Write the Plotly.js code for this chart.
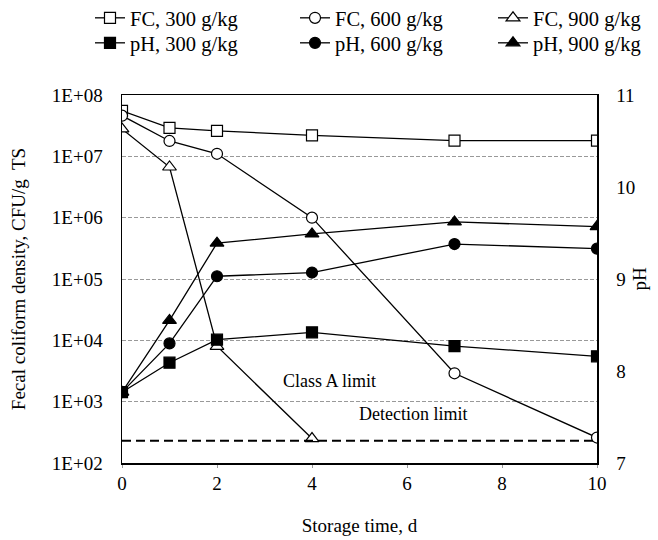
<!DOCTYPE html>
<html>
<head>
<meta charset="utf-8">
<script src="https://cdn.plot.ly/plotly-3.0.1.min.js"></script>
<style>html,body{margin:0;padding:0;background:#fff;}#chart{width:658px;height:540px;}</style>
</head>
<body>
<div id="chart"></div>
<script>
var days = [0, 1, 2, 4, 7, 10];
var days900 = [0, 1, 2, 4];
var fc300 = [5.5e7, 2.9e7, 2.6e7, 2.2e7, 1.8e7, 1.8e7];
var fc600 = [4.6e7, 1.78e7, 1.1e7, 1.0e6, 2.9e3, 2.6e2];
var fc900 = [2.8e7, 6.7e6, 8.0e3, 2.5e2];
var ph300 = [7.77, 8.09, 8.34, 8.42, 8.27, 8.16];
var ph600 = [7.77, 8.30, 9.03, 9.07, 9.38, 9.33];
var ph900 = [7.77, 8.55, 9.39, 9.49, 9.62, 9.57];
var detectionLimit = 230;
var leftTickVals = [1e2, 1e3, 1e4, 1e5, 1e6, 1e7, 1e8];
var leftTickText = ['1E+02', '1E+03', '1E+04', '1E+05', '1E+06', '1E+07', '1E+08'];
var phTicks = [7, 8, 9, 10, 11];
var xTicks = [0, 2, 4, 6, 8, 10];

var F = 'Liberation Serif, Times New Roman, serif';
var ln = {color: '#000', width: 1.3};

function tr(name, x, y, sym, fill, size, axis, leg) {
  return {
    x: x, y: y, name: name, type: 'scatter', mode: 'lines+markers', yaxis: axis,
    legend: leg, line: ln,
    marker: {symbol: sym, size: size, color: fill, line: {color: '#000', width: 1.2}}
  };
}

var data = [
  tr('FC, 300 g/kg', days, fc300, 'square', '#fff', 11, 'y', 'legend'),
  tr('FC, 600 g/kg', days, fc600, 'circle', '#fff', 11, 'y', 'legend2'),
  tr('FC, 900 g/kg', days900, fc900, 'triangle-up', '#fff', 12, 'y', 'legend3'),
  tr('pH, 300 g/kg', days, ph300, 'square', '#000', 11, 'y2', 'legend4'),
  tr('pH, 600 g/kg', days, ph600, 'circle', '#000', 11, 'y2', 'legend5'),
  tr('pH, 900 g/kg', days, ph900, 'triangle-up', '#000', 12, 'y2', 'legend6'),
  {x: [0, 10], y: [detectionLimit, detectionLimit], type: 'scatter', mode: 'lines',
   showlegend: false, hoverinfo: 'skip', yaxis: 'y',
   line: {color: '#000', width: 2, dash: '9px,5px'}}
];

var plotL = 122, plotW = 475, plotT = 95, plotH = 368;
function leg(textLeft, rowCenter) {
  return {x: (textLeft - 40 - plotL) / plotW, xanchor: 'left',
          y: 1 + (plotT - rowCenter) / plotH, yanchor: 'middle',
          orientation: 'v', font: {family: F, size: 20.5, color: '#000'},
          bgcolor: 'rgba(0,0,0,0)', borderwidth: 0};
}
var colText = [130, 335, 533];
var rowY = [18, 43];

var layout = {
  width: 658, height: 540,
  margin: {l: plotL, r: 61, t: plotT, b: 77, autoexpand: false},
  paper_bgcolor: '#fff', plot_bgcolor: '#fff',
  font: {family: F, color: '#000', size: 19},
  showlegend: true,
  legend: leg(colText[0], rowY[0]),
  legend2: leg(colText[1], rowY[0]),
  legend3: leg(colText[2], rowY[0]),
  legend4: leg(colText[0], rowY[1]),
  legend5: leg(colText[1], rowY[1]),
  legend6: leg(colText[2], rowY[1]),
  xaxis: {range: [0, 10], tickvals: xTicks, ticks: 'outside', ticklen: 3, tickcolor: '#999',
          showgrid: false, zeroline: false, showline: true, linecolor: '#000', linewidth: 1.5,
          mirror: true, tickfont: {family: F, size: 19},
          title: {text: 'Storage time, d', font: {family: F, size: 19}, standoff: 25}},
  yaxis: {type: 'log', range: [2, 8], tickvals: leftTickVals, ticktext: leftTickText,
          ticks: '', showgrid: true, gridcolor: '#999', griddash: '4px,2px', gridwidth: 1,
          zeroline: false, showline: true, linecolor: '#000', linewidth: 1.5,
          tickfont: {family: F, size: 19}, ticklabelstandoff: 14,
          title: {text: 'Fecal coliform density, CFU/g\u00a0 TS', font: {family: F, size: 19}, standoff: 21}},
  yaxis2: {overlaying: 'y', side: 'right', range: [7, 11], tickvals: phTicks, ticks: '',
           showgrid: false, zeroline: false, showline: true, linecolor: '#000', linewidth: 1.5,
           tickfont: {family: F, size: 19}, ticklabelstandoff: 14},
  annotations: [
    {x: 4.37, y: Math.log10(2200), xref: 'x', yref: 'y', text: 'Class A limit', showarrow: false,
     font: {family: F, size: 18, color: '#000'}},
    {x: 6.12, y: Math.log10(630), xref: 'x', yref: 'y', text: 'Detection limit', showarrow: false,
     font: {family: F, size: 18, color: '#000'}},
    {x: (651 - plotL) / plotW, y: 0.5, xref: 'paper', yref: 'paper', text: 'pH', textangle: -90,
     showarrow: false, font: {family: F, size: 19, color: '#000'}}
  ]
};

Plotly.newPlot('chart', data, layout, {displayModeBar: false, staticPlot: true});
</script>
</body>
</html>
